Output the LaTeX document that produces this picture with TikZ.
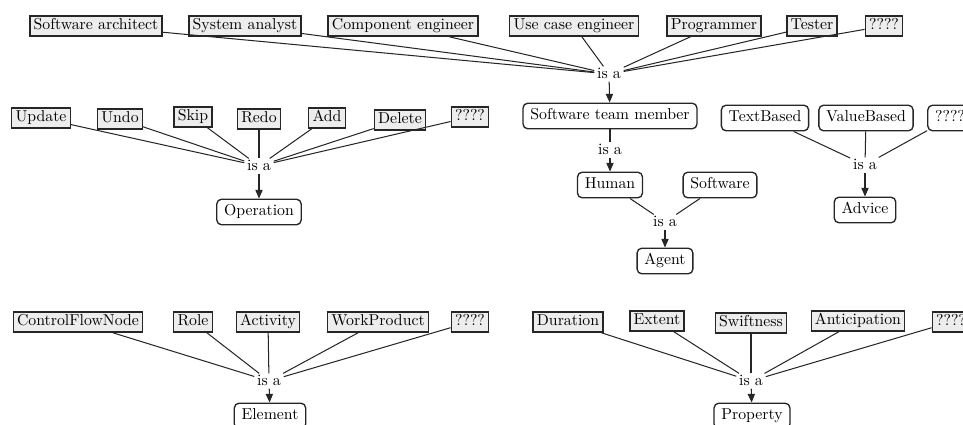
\documentclass[tikz,border=0pt]{standalone}
\usetikzlibrary{arrows.meta}
\definecolor{leaffill}{gray}{0.93}
\definecolor{ink}{gray}{0.15}
\tikzset{
  leaf/.style={draw=ink, line width=0.85pt, fill=leaffill, rectangle,
    inner xsep=2.4pt, inner ysep=1.9pt, text height=7pt, text depth=2pt},
  concept/.style={draw=ink, line width=0.85pt, fill=white, rectangle,
    rounded corners=3pt, inner xsep=4.6pt, inner ysep=3.6pt,
    text height=7pt, text depth=2pt},
  isa/.style={inner sep=1.6pt, text height=6pt, text depth=0pt},
  link/.style={draw=ink, line width=0.65pt},
  isarrow/.style={link, -{Triangle[length=5.5pt,width=4.6pt]}}
}
\begin{document}
\begin{tikzpicture}[x=0.633pt,y=-0.633pt]
\useasboundingbox (0,0) rectangle (963,424);

% ---- software team member hierarchy ----
\node[leaf] (sarch) at (96,26) {Software architect};
\node[leaf] (sanal) at (245,26) {System analyst};
\node[leaf] (ceng) at (403,26) {Component engineer};
\node[leaf] (uceng) at (574,26) {Use case engineer};
\node[leaf] (prog) at (714,26) {Programmer};
\node[leaf] (test) at (812,26) {Tester};
\node[leaf] (qa) at (884,26) {????};
\node[isa] (isa1) at (609,74) {is a};
\node[concept] (stm) at (610,116) {Software team member};
\foreach \n in {sarch,sanal,ceng,uceng,prog,test,qa} \draw[link] (\n) -- (isa1);
\draw[isarrow] (isa1) -- (stm);

\node[isa] (isa2) at (610,150) {is a};
\node[concept] (human) at (610,185) {Human};
\node[concept] (soft) at (720,185) {Software};
\node[isa] (isa3) at (665,222) {is a};
\node[concept] (agent) at (665,261) {Agent};
\draw[link] (stm) -- (isa2);
\draw[isarrow] (isa2) -- (human);
\draw[link] (human) -- (isa3);
\draw[link] (soft) -- (isa3);
\draw[isarrow] (isa3) -- (agent);

% ---- advice ----
\node[concept] (text) at (765,118) {TextBased};
\node[concept] (value) at (866,118) {ValueBased};
\node[concept] (qb) at (950,118) {????};
\node[isa] (isa4) at (865,165) {is a};
\node[concept] (advice) at (865,210) {Advice};
\foreach \n in {text,value,qb} \draw[link] (\n) -- (isa4);
\draw[isarrow] (isa4) -- (advice);

% ---- operation ----
\node[leaf] (update) at (41,118) {Update};
\node[leaf] (undo) at (120,119) {Undo};
\node[leaf] (skip) at (193,117) {Skip};
\node[leaf] (redo) at (259,119) {Redo};
\node[leaf] (add) at (327,118) {Add};
\node[leaf] (delete) at (400,120) {Delete};
\node[leaf] (qc) at (470,117) {????};
\node[isa] (isa5) at (259,166) {is a};
\node[concept] (operation) at (259,212) {Operation};
\foreach \n in {update,undo,skip,redo,add,delete,qc} \draw[link] (\n) -- (isa5);
\draw[isarrow] (isa5) -- (operation);

% ---- element ----
\node[leaf] (cfn) at (78,322) {ControlFlowNode};
\node[leaf] (role) at (193,322) {Role};
\node[leaf] (activity) at (268,322) {Activity};
\node[leaf] (wp) at (378,322) {WorkProduct};
\node[leaf] (qd) at (470,322) {????};
\node[isa] (isa6) at (269,381) {is a};
\node[concept] (element) at (270,416) {Element};
\foreach \n in {cfn,role,activity,wp,qd} \draw[link] (\n) -- (isa6);
\draw[isarrow] (isa6) -- (element);

% ---- property ----
\node[leaf] (duration) at (568,322) {Duration};
\node[leaf] (extent) at (657,321) {Extent};
\node[leaf] (swift) at (751,323) {Swiftness};
\node[leaf] (antic) at (858,321) {Anticipation};
\node[leaf] (qe) at (951,322) {????};
\node[isa] (isa7) at (751,381) {is a};
\node[concept] (property) at (752,416) {Property};
\foreach \n in {duration,extent,swift,antic,qe} \draw[link] (\n) -- (isa7);
\draw[isarrow] (isa7) -- (property);
\end{tikzpicture}
\end{document}
